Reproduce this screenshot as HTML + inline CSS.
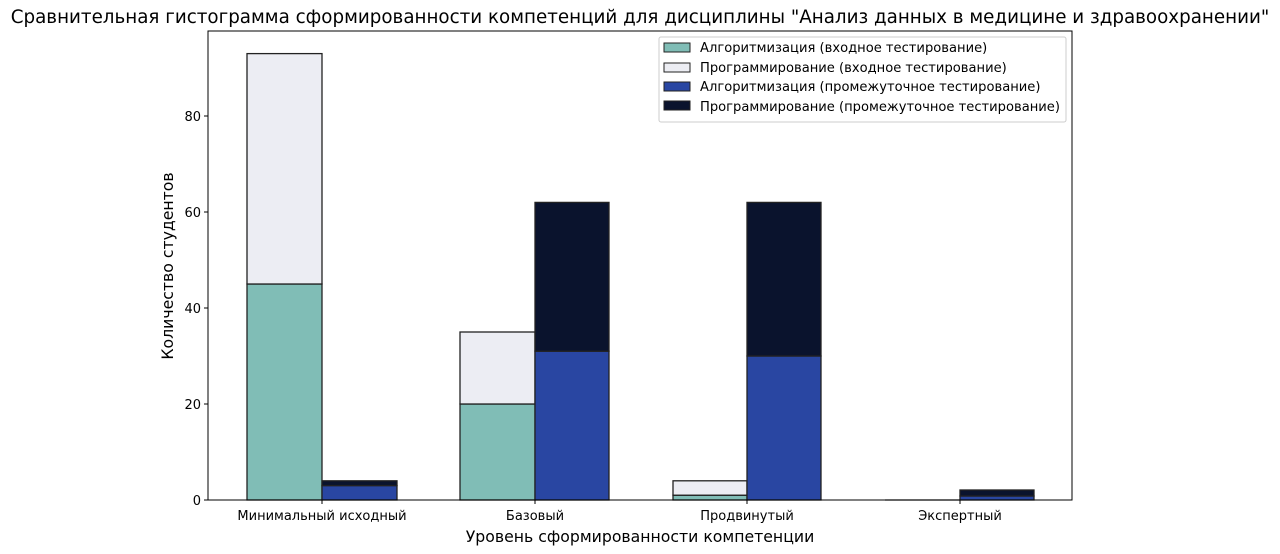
<!DOCTYPE html>
<html><head><meta charset="utf-8"><style>
html,body{margin:0;padding:0;background:#fff;}
svg{display:block;font-family:"DejaVu Sans","Liberation Sans",sans-serif;}
</style></head><body>
<svg width="1280" height="554" viewBox="0 0 1280 554" xmlns="http://www.w3.org/2000/svg">
<text x="640" y="23" font-size="18.3" text-anchor="middle" fill="#000">Сравнительная гистограмма сформированности компетенций для дисциплины "Анализ данных в медицине и здравоохранении"</text>
<g stroke="#222" stroke-width="1.3">
<rect x="247" y="284" width="75" height="216" fill="#80bdb6"/>
<rect x="247" y="53.6" width="75" height="230.4" fill="#ecedf3"/>
<rect x="322" y="485.6" width="75" height="14.4" fill="#2946a2"/>
<rect x="322" y="480.8" width="75" height="4.8" fill="#0a132d"/>
<rect x="460" y="404" width="75" height="96" fill="#80bdb6"/>
<rect x="460" y="332" width="75" height="72" fill="#ecedf3"/>
<rect x="535" y="351.2" width="74" height="148.8" fill="#2946a2"/>
<rect x="535" y="202.4" width="74" height="148.8" fill="#0a132d"/>
<rect x="673" y="495.2" width="74" height="4.8" fill="#80bdb6"/>
<rect x="673" y="480.8" width="74" height="14.4" fill="#ecedf3"/>
<rect x="747" y="356" width="74" height="144" fill="#2946a2"/>
<rect x="747" y="202.4" width="74" height="153.6" fill="#0a132d"/>
<line x1="885" y1="500" x2="960" y2="500"/>
<rect x="960" y="496" width="74" height="4" fill="#2946a2"/>
<rect x="960" y="490" width="74" height="6" fill="#0a132d"/>
</g>
<rect x="208" y="31" width="864" height="469" fill="none" stroke="#000" stroke-width="1"/>
<g stroke="#000" stroke-width="1">
<line x1="204" y1="500" x2="208" y2="500"/><line x1="204" y1="404" x2="208" y2="404"/>
<line x1="204" y1="308" x2="208" y2="308"/><line x1="204" y1="212" x2="208" y2="212"/>
<line x1="204" y1="116" x2="208" y2="116"/>
<line x1="322" y1="500" x2="322" y2="504"/><line x1="535" y1="500" x2="535" y2="504"/>
<line x1="747" y1="500" x2="747" y2="504"/><line x1="960" y1="500" x2="960" y2="504"/>
</g>
<g font-size="13" fill="#000" text-anchor="end">
<text x="201" y="505">0</text><text x="201" y="409">20</text><text x="201" y="313">40</text>
<text x="201" y="217">60</text><text x="201" y="121">80</text>
</g>
<g font-size="13" fill="#000" text-anchor="middle">
<text x="322" y="520">Минимальный исходный</text><text x="535" y="520">Базовый</text>
<text x="747" y="520">Продвинутый</text><text x="960" y="520">Экспертный</text>
</g>
<text x="640" y="542" font-size="15.7" text-anchor="middle">Уровень сформированности компетенции</text>
<text transform="translate(173,266) rotate(-90)" font-size="15.7" text-anchor="middle">Количество студентов</text>
<rect x="659" y="37" width="407" height="85" fill="#fff" stroke="#ccc" rx="2"/>
<g stroke="#222" stroke-width="1">
<rect x="664" y="43" width="26" height="9" fill="#80bdb6"/>
<rect x="664" y="63" width="26" height="9" fill="#ecedf3"/>
<rect x="664" y="82" width="26" height="9" fill="#2946a2"/>
<rect x="664" y="101" width="26" height="9" fill="#0a132d"/>
</g>
<g font-size="13.1" fill="#000">
<text x="700" y="52">Алгоритмизация (входное тестирование)</text>
<text x="700" y="72">Программирование (входное тестирование)</text>
<text x="700" y="91">Алгоритмизация (промежуточное тестирование)</text>
<text x="700" y="111">Программирование (промежуточное тестирование)</text>
</g>
</svg>
</body></html>
